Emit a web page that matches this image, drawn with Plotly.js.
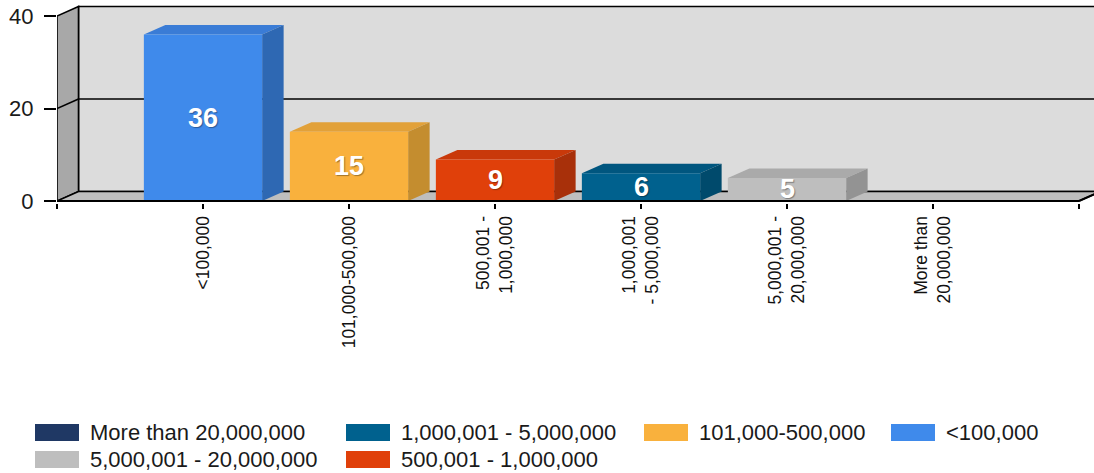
<!DOCTYPE html>
<html><head><meta charset="utf-8">
<script src="https://cdn.plot.ly/plotly-3.0.1.min.js"></script>
<style>html,body{margin:0;padding:0;background:#fff;}#chart{width:1094px;height:473px;}</style>
</head><body><div id="chart"></div>
<script>
// ---- data ----
const categories = ['<100,000', '101,000-500,000', '500,001 - 1,000,000', '1,000,001 - 5,000,000', '5,000,001 - 20,000,000', 'More than 20,000,000'];
const tickLabels = ['<100,000', '101,000-500,000', '500,001 -<br>1,000,000', '1,000,001<br>- 5,000,000', '5,000,001 -<br>20,000,000', 'More than<br>20,000,000'];
const values = [36, 15, 9, 6, 5, 0];
const yTicks = [0, 20, 40];
const frontColors = ['#3F8AEB', '#F9B13D', '#E0400A', '#00618E', '#BEBEBE', '#1F3864'];
const topColors = ['#3A7CD6', '#E2A139', '#C9390A', '#00567F', '#AAAAAA', '#1A2F55'];
const sideColors = ['#2E68B3', '#C48D2F', '#A8300A', '#004A6C', '#939393', '#142645'];
const legendOrder = [5, 4, 3, 2, 1, 0];

// ---- layout constants ----
const FONT = '"Liberation Sans", Arial, sans-serif';
const L = 57, T = 2, W = 1037, H = 201;
const PXU_X = 146, PXU_Y = 4.625;
const xMin = -1, xMax = xMin + W / PXU_X;
const yMax = (201 - T) / PXU_Y, yMin = -(T + H - 201) / PXU_Y;
const DX = 21.5 / PXU_X, DY = 9.5 / PXU_Y, BARW = 0.81;
const xEnd = categories.length;
const yTop = yTicks[yTicks.length - 1];
const px2x = p => (p - L) / W;
const py2y = p => (T + H - p) / H;

const xs = categories.map((_, i) => i);
const shapes = [];
const poly = (pts) => 'M' + pts.map(p => p[0] + ',' + p[1]).join('L') + 'Z';

// back wall
shapes.push({type: 'path', layer: 'below', xref: 'x', yref: 'y',
  path: poly([[xMin + DX, DY], [xEnd + DX, DY], [xEnd + DX, yTop + DY], [xMin + DX, yTop + DY]]),
  fillcolor: '#DCDCDC', line: {color: '#000', width: 1.6}});
// left wall
shapes.push({type: 'path', layer: 'below', xref: 'x', yref: 'y',
  path: poly([[xMin, 0], [xMin + DX, DY], [xMin + DX, yTop + DY], [xMin, yTop]]),
  fillcolor: '#A8A8A8', line: {color: '#000', width: 1.6}});
// floor
shapes.push({type: 'path', layer: 'below', xref: 'x', yref: 'y',
  path: poly([[xMin, 0], [xMin + DX, DY], [xEnd + DX, DY], [xEnd, 0]]),
  fillcolor: '#BEBEBE', line: {color: '#000', width: 1.6}});
// gridlines (back wall + left wall diagonal)
yTicks.slice(1, -1).forEach(t => {
  shapes.push({type: 'line', layer: 'below', xref: 'x', yref: 'y', x0: xMin + DX, x1: xEnd + DX, y0: t + DY, y1: t + DY, line: {color: '#000', width: 1.6}});
  shapes.push({type: 'line', layer: 'below', xref: 'x', yref: 'y', x0: xMin, x1: xMin + DX, y0: t, y1: t + DY, line: {color: '#000', width: 1.6}});
});
// front bottom edge
shapes.push({type: 'line', layer: 'above', xref: 'x', yref: 'y', x0: xMin, x1: xEnd, y0: 0, y1: 0, line: {color: '#000', width: 2}});
shapes.push({type: 'line', layer: 'above', xref: 'x', yref: 'y', x0: xEnd, x1: xEnd + DX, y0: 0, y1: DY, line: {color: '#000', width: 2}});
// bar top and side faces
xs.forEach((x, i) => {
  const v = values[i];
  if (v <= 0) return;
  const a = x - BARW / 2, b = x + BARW / 2;
  shapes.push({type: 'path', layer: 'below', xref: 'x', yref: 'y',
    path: poly([[a, v], [a + DX, v + DY], [b + DX, v + DY], [b, v]]),
    fillcolor: topColors[i], line: {width: 0}});
  shapes.push({type: 'path', layer: 'below', xref: 'x', yref: 'y',
    path: poly([[b, 0], [b + DX, DY], [b + DX, v + DY], [b, v]]),
    fillcolor: sideColors[i], line: {width: 0}});
});

const annotations = [];
xs.forEach((x, i) => {
  if (values[i] <= 0) return;
  annotations.push({x: x, y: values[i] / 2, xref: 'x', yref: 'y', text: String(values[i]), showarrow: false,
    font: {family: FONT, size: 27, color: '#FFFFFF', weight: 'bold', shadow: '1px 1px 1px rgba(0,0,0,0.35)'}});
});

// legend grid slots (column, row) for each entry in legendOrder
const legCols = [35, 346, 644, 891];
const legRows = [432.5, 459.5];
const legSlots = [[0, 0], [0, 1], [1, 0], [1, 1], [2, 0], [3, 0]];
legendOrder.forEach((ci, k) => {
  const sx = legCols[legSlots[k][0]], sy = legRows[legSlots[k][1]];
  shapes.push({type: 'rect', xref: 'paper', yref: 'paper', x0: px2x(sx), x1: px2x(sx + 44), y0: py2y(sy - 8.5), y1: py2y(sy + 8.5),
    fillcolor: frontColors[ci], line: {width: 0}});
  annotations.push({xref: 'paper', yref: 'paper', x: px2x(sx + 53), y: py2y(sy), xanchor: 'left', yanchor: 'middle',
    text: categories[ci], showarrow: false, font: {family: FONT, size: 22, color: '#1a1a1a'}});
});

const tickVals = [xMin].concat(xs, [xEnd]);
const tickText = [''].concat(tickLabels, ['']);

const data = [{
  type: 'bar', x: xs, y: values, width: BARW, text: categories, hoverinfo: 'text+y',
  marker: {color: frontColors, line: {width: 0}}, textposition: 'none', showlegend: false
}];

const layout = {
  width: 1094, height: 473,
  margin: {l: L, r: 1094 - L - W, t: T, b: 473 - T - H, pad: 0},
  paper_bgcolor: '#FFFFFF', plot_bgcolor: '#FFFFFF',
  showlegend: false,
  font: {family: FONT, color: '#111'},
  xaxis: {range: [xMin, xMax], tickmode: 'array', tickvals: tickVals, ticktext: tickText, tickangle: -90,
    ticks: 'outside', ticklen: 5, tickwidth: 2, tickcolor: '#000', showline: false, showgrid: false, zeroline: false,
    tickfont: {family: FONT, size: 17.5, color: '#111'}, fixedrange: true},
  yaxis: {range: [yMin, yMax], tickmode: 'array', tickvals: yTicks, ticks: 'outside', ticklen: 12, tickwidth: 2, tickcolor: '#000',
    showline: false, showgrid: false, zeroline: false, ticklabelstandoff: 6,
    tickfont: {family: FONT, size: 22, color: '#1a1a1a'}, fixedrange: true},
  shapes: shapes,
  annotations: annotations
};

Plotly.newPlot('chart', data, layout, {displayModeBar: false, staticPlot: true});
</script>
</body></html>
